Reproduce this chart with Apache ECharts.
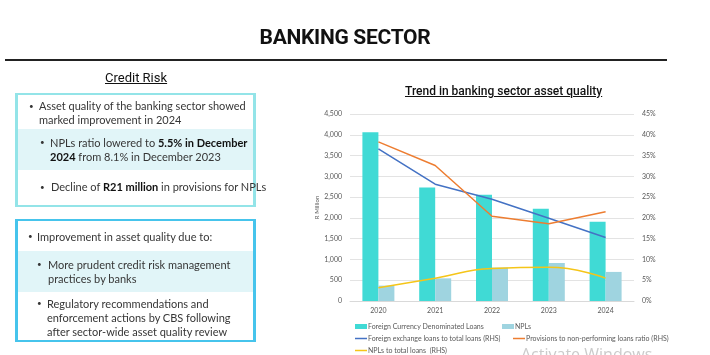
<!DOCTYPE html>
<html>
<head>
<meta charset="utf-8">
<script src="https://cdn.jsdelivr.net/npm/echarts@6/dist/echarts.min.js"></script>
<style>
  body { margin: 0; width: 710px; height: 355px; overflow: hidden; background: #fff; position: relative; }
  #chart { position: absolute; left: 0; top: 0; width: 710px; height: 355px; }
  .hd { position: absolute; font-family: Roboto, sans-serif; color: #111; white-space: nowrap; }
  .rule { position: absolute; left: 5px; top: 59px; width: 662px; height: 2px; background: #222; }
  .box { position: absolute; left: 15px; width: 241px; box-sizing: border-box; font-family: Lato, sans-serif; font-size: 11px; color: #363636; }
  .row { position: relative; }
  .row.alt { background: #e1f5f8; }
  .b { position: absolute; font-size: 8px; }
  .t { position: absolute; line-height: 14px; white-space: nowrap; }
  .t b { color: #111; }
  .wm { position: absolute; left: 521px; top: 343px; font-family: "Open Sans", sans-serif; font-size: 16px; color: #cbcbcb; white-space: nowrap; }
</style>
</head>
<body>
<div id="chart"></div>
<div class="hd" style="left:0;width:690px;top:25px;text-align:center;font-size:21px;font-weight:700;letter-spacing:-0.3px;">BANKING SECTOR</div>
<div class="rule"></div>
<div class="hd" style="left:105px;top:70px;font-size:13px;text-decoration:underline;">Credit Risk</div>
<div class="hd" style="left:405px;top:84px;font-size:12px;font-weight:500;text-decoration:underline;">Trend in banking sector asset quality</div>

<div class="box" style="top:93px;height:114px;border:3px solid #93e4e8;border-top-width:2px;border-bottom-width:2px;">
  <div class="row" style="height:34px;">
    <span class="b" style="left:11px;top:6px;">•</span>
    <span class="t" style="left:21px;top:4px;">Asset quality of the banking sector showed<br>marked improvement in 2024</span>
  </div>
  <div class="row alt" style="height:41px;">
    <span class="b" style="left:22px;top:8px;">•</span>
    <span class="t" style="left:32px;top:7px;">NPLs ratio lowered to <b>5.5% in December</b><br><b>2024</b> from 8.1% in December 2023</span>
  </div>
  <div class="row" style="height:34px;">
    <span class="b" style="left:22px;top:12px;">•</span>
    <span class="t" style="left:33px;top:10px;">Decline of <b>R21 million</b> in provisions for NPLs</span>
  </div>
</div>

<div class="box" style="top:219px;height:123px;border:3px solid #46c4ec;border-top-width:2px;border-bottom-width:2px;">
  <div class="row" style="height:30px;">
    <span class="b" style="left:10px;top:10px;">•</span>
    <span class="t" style="left:19px;top:9px;">Improvement in asset quality due to:</span>
  </div>
  <div class="row alt" style="height:41px;">
    <span class="b" style="left:19px;top:8px;">•</span>
    <span class="t" style="left:30px;top:7px;">More prudent credit risk management<br>practices by banks</span>
  </div>
  <div class="row" style="height:48px;">
    <span class="b" style="left:19px;top:6px;">•</span>
    <span class="t" style="left:29px;top:5px;">Regulatory recommendations and<br>enforcement actions by CBS following<br>after sector-wide asset quality review</span>
  </div>
</div>

<div class="wm">Activate Windows</div>

<script>
const years = ['2020', '2021', '2022', '2023', '2024'];
const fcLoans = [4060, 2730, 2555, 2220, 1910];
const npls = [370, 545, 805, 915, 700];
const fxRatio = [36.6, 28.1, 24.5, 19.9, 15.3];
const provRatio = [38.3, 32.6, 20.4, 18.6, 21.5];
const nplRatio = [3.2, 5.5, 7.8, 8.1, 5.5];

const gray = '#595959';
const lbl = { color: gray, fontSize: 7, fontFamily: 'Lato, sans-serif' };

function legendAt(name, left, top, icon, w, h) {
  return {
    data: [name], left: left, top: top, icon: icon,
    itemWidth: w, itemHeight: h, itemGap: 0, padding: 0,
    textStyle: Object.assign({ padding: [0, 0, 0, -4] }, lbl)
  };
}

const chart = echarts.init(document.getElementById('chart'));
chart.setOption({
  animation: false,
  grid: { left: 350, right: 76, top: 114, bottom: 54 },
  legend: [
    legendAt('Foreign Currency Denominated Loans', 355, 323, 'rect', 12, 5),
    legendAt('NPLs', 502, 323, 'rect', 12, 5),
    legendAt('Foreign exchange loans to total loans (RHS)', 355, 335, 'path://M0,0H12V1.5H0Z', 12, 2),
    legendAt('Provisions to non-performing loans ratio (RHS)', 513, 335, 'path://M0,0H12V1.5H0Z', 12, 2),
    legendAt('NPLs to total loans  (RHS)', 355, 347, 'path://M0,0H12V1.5H0Z', 12, 2)
  ],
  xAxis: {
    type: 'category', data: years,
    axisLine: { lineStyle: { color: '#d9d9d9' } },
    axisTick: { show: false },
    axisLabel: Object.assign({ margin: 6 }, lbl)
  },
  yAxis: [
    {
      type: 'value', min: 0, max: 4500, interval: 500,
      name: 'R Million', nameLocation: 'middle', nameGap: 22, nameRotate: 90,
      nameTextStyle: { color: gray, fontSize: 6, fontFamily: 'Lato, sans-serif' },
      axisLabel: Object.assign({ margin: 8, formatter: v => v.toLocaleString('en-US') }, lbl),
      splitLine: { lineStyle: { color: '#e3e3e3' } }
    },
    {
      type: 'value', min: 0, max: 45, interval: 5,
      axisLabel: Object.assign({ margin: 8, formatter: '{value}%' }, lbl),
      splitLine: { show: false }
    }
  ],
  series: [
    { name: 'Foreign Currency Denominated Loans', type: 'bar', data: fcLoans, barWidth: 16, barGap: '0%',
      itemStyle: { color: '#40dad5' } },
    { name: 'NPLs', type: 'bar', data: npls, barWidth: 16,
      itemStyle: { color: '#9fd4e0' } },
    { name: 'Foreign exchange loans to total loans (RHS)', type: 'line', yAxisIndex: 1, data: fxRatio,
      symbol: 'none', lineStyle: { color: '#4472c4', width: 1.5 }, itemStyle: { color: '#4472c4' } },
    { name: 'Provisions to non-performing loans ratio (RHS)', type: 'line', yAxisIndex: 1, data: provRatio,
      symbol: 'none', lineStyle: { color: '#ed7d31', width: 1.5 }, itemStyle: { color: '#ed7d31' } },
    { name: 'NPLs to total loans  (RHS)', type: 'line', yAxisIndex: 1, data: nplRatio, smooth: true,
      symbol: 'none', lineStyle: { color: '#f5c518', width: 1.5 }, itemStyle: { color: '#f5c518' } }
  ]
});
</script>
</body>
</html>
